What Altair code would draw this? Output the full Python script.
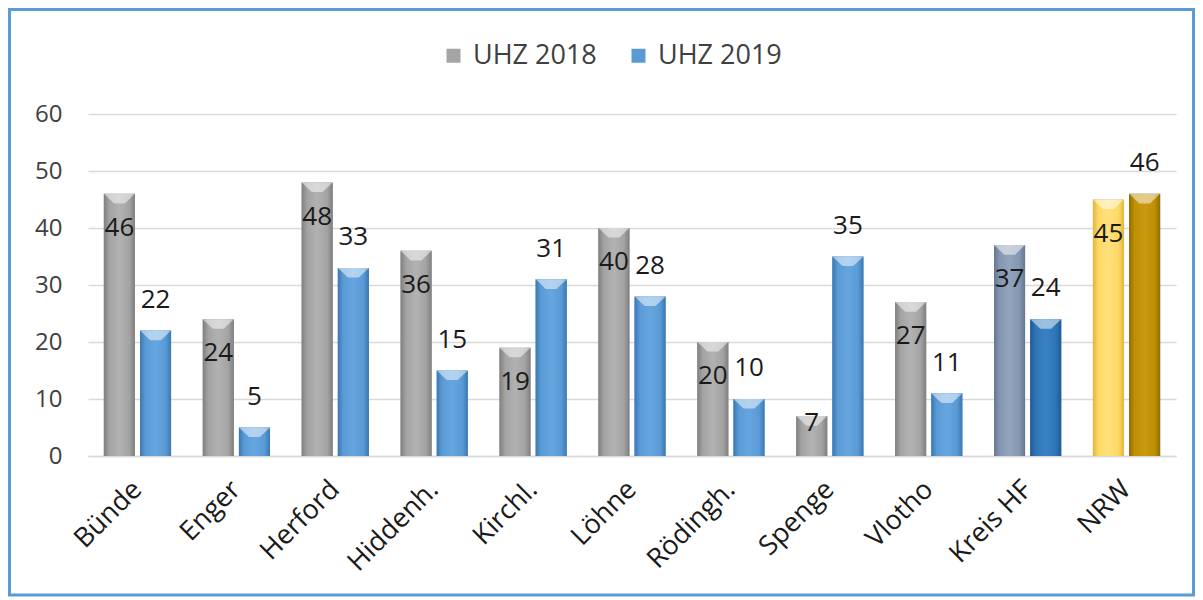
import altair as alt
import pandas as pd

categories = ["Bünde", "Enger", "Herford", "Hiddenh.", "Kirchl.", "Löhne",
              "Rödingh.", "Spenge", "Vlotho", "Kreis HF", "NRW"]
uhz_2018 = [46, 24, 48, 36, 19, 40, 20, 7, 27, 37, 45]
uhz_2019 = [22, 5, 33, 15, 31, 28, 10, 35, 11, 24, 46]
series_names = ["UHZ 2018", "UHZ 2019"]

FONT = "Open Sans"

rows = []
for c, a, b in zip(categories, uhz_2018, uhz_2019):
    for s, v in zip(series_names, (a, b)):
        if c == "Kreis HF":
            g = "k18" if s == "UHZ 2018" else "k19"
        elif c == "NRW":
            g = "n18" if s == "UHZ 2018" else "n19"
        else:
            g = "g18" if s == "UHZ 2018" else "b19"
        rows.append({"cat": c, "series": s, "value": v, "grp": g})
df = pd.DataFrame(rows)

x_enc = alt.X("cat:N", sort=categories, title=None,
              scale=alt.Scale(paddingInner=0.32, paddingOuter=0.16),
              axis=alt.Axis(labelAngle=-45, labelAlign="right", labelBaseline="middle",
                            labelFontSize=27, labelFont=FONT, labelColor="#1a1a1a",
                            labelPadding=29, ticks=False, domainColor="#d9d9d9",
                            domainWidth=1.5, grid=False))
xoff = alt.XOffset("series:N", scale=alt.Scale(domain=series_names, paddingInner=0.14))
y_axis = alt.Axis(values=[0, 10, 20, 30, 40, 50, 60], domain=False, ticks=False,
                  gridColor="#d9d9d9", gridWidth=1.3, labelFontSize=24,
                  labelFont=FONT, labelColor="#404040", labelPadding=26)
y_scale = alt.Scale(domain=[0, 60])


def y_of(field):
    return alt.Y(field, title=None, scale=y_scale, axis=y_axis)


base = alt.Chart(df)

bars = base.mark_bar().encode(
    x=x_enc, xOffset=xoff, y=y_of("value:Q"),
    color=alt.Color("series:N",
                    scale=alt.Scale(domain=series_names, range=["#a5a5a5", "#5b9bd5"]),
                    legend=alt.Legend(orient="none", legendX=352, legendY=-72,
                                      direction="horizontal", title=None,
                                      symbolType="square", symbolSize=196,
                                      labelFontSize=27, labelFont=FONT,
                                      labelColor="#404040", columnPadding=28,
                                      labelOffset=6)),
)


def grad(edge, mid, center):
    return alt.LinearGradient(
        gradient="linear", x1=0, x2=1, y1=0, y2=0,
        stops=[alt.GradientStop(offset=0, color=edge),
               alt.GradientStop(offset=0.18, color=mid),
               alt.GradientStop(offset=0.5, color=center),
               alt.GradientStop(offset=0.82, color=mid),
               alt.GradientStop(offset=1, color=edge)])


styles = {
    "g18": grad("#7f7f7f", "#a3a3a3", "#b2b2b2"),
    "b19": grad("#3b78b4", "#5b9bd5", "#66a6e0"),
    "k18": grad("#66788f", "#8496b0", "#91a3bd"),
    "k19": grad("#1d5a94", "#2e75b6", "#3a82c3"),
    "n18": grad("#e0b63a", "#ffd966", "#ffe07a"),
    "n19": grad("#8f6c00", "#bf9000", "#c99a10"),
}

overlays = []
for g, fill in styles.items():
    overlays.append(
        base.transform_filter(alt.datum.grp == g).mark_bar(fill=fill).encode(
            x=x_enc, xOffset=xoff, y=y_of("value:Q")))

chevron = base.mark_point(
    shape="M-1,0 L1,0 L0.35,0.62 L-0.35,0.62 Z", filled=True, fill="white",
    fillOpacity=0.5, strokeWidth=0, size=961).encode(
    x=x_enc, xOffset=xoff, y=y_of("value:Q"))

lab18 = base.transform_filter(alt.datum.series == "UHZ 2018").transform_calculate(
    ly="datum.value < 10 ? datum.value - 1.2 : datum.value - 6"
).mark_text(fontSize=26, font=FONT, color="#1a1a1a", baseline="middle").encode(
    x=x_enc, xOffset=xoff, y=y_of("ly:Q"), text="value:Q")

lab19 = base.transform_filter(alt.datum.series == "UHZ 2019").transform_calculate(
    ly="datum.value + 5.4"
).mark_text(fontSize=26, font=FONT, color="#1a1a1a", baseline="middle").encode(
    x=x_enc, xOffset=xoff, y=y_of("ly:Q"), text="value:Q")

frame = alt.Chart(pd.DataFrame({"k": [0]})).mark_rect(
    fill="transparent", stroke="#5b9bd5", strokeWidth=3).encode(
    x=alt.value(-78.5), x2=alt.value(1105.5), y=alt.value(-104.5), y2=alt.value(481))

chart = alt.layer(bars, *overlays, chevron, lab18, lab19, frame).properties(
    width=1088, height=342,
    padding={"left": 80, "top": 106, "right": 19, "bottom": 141},
    autosize=alt.AutoSizeParams(type="none"),
).configure_view(stroke=None)

chart.save("out.html", embed_options={"renderer": "svg", "actions": False})
